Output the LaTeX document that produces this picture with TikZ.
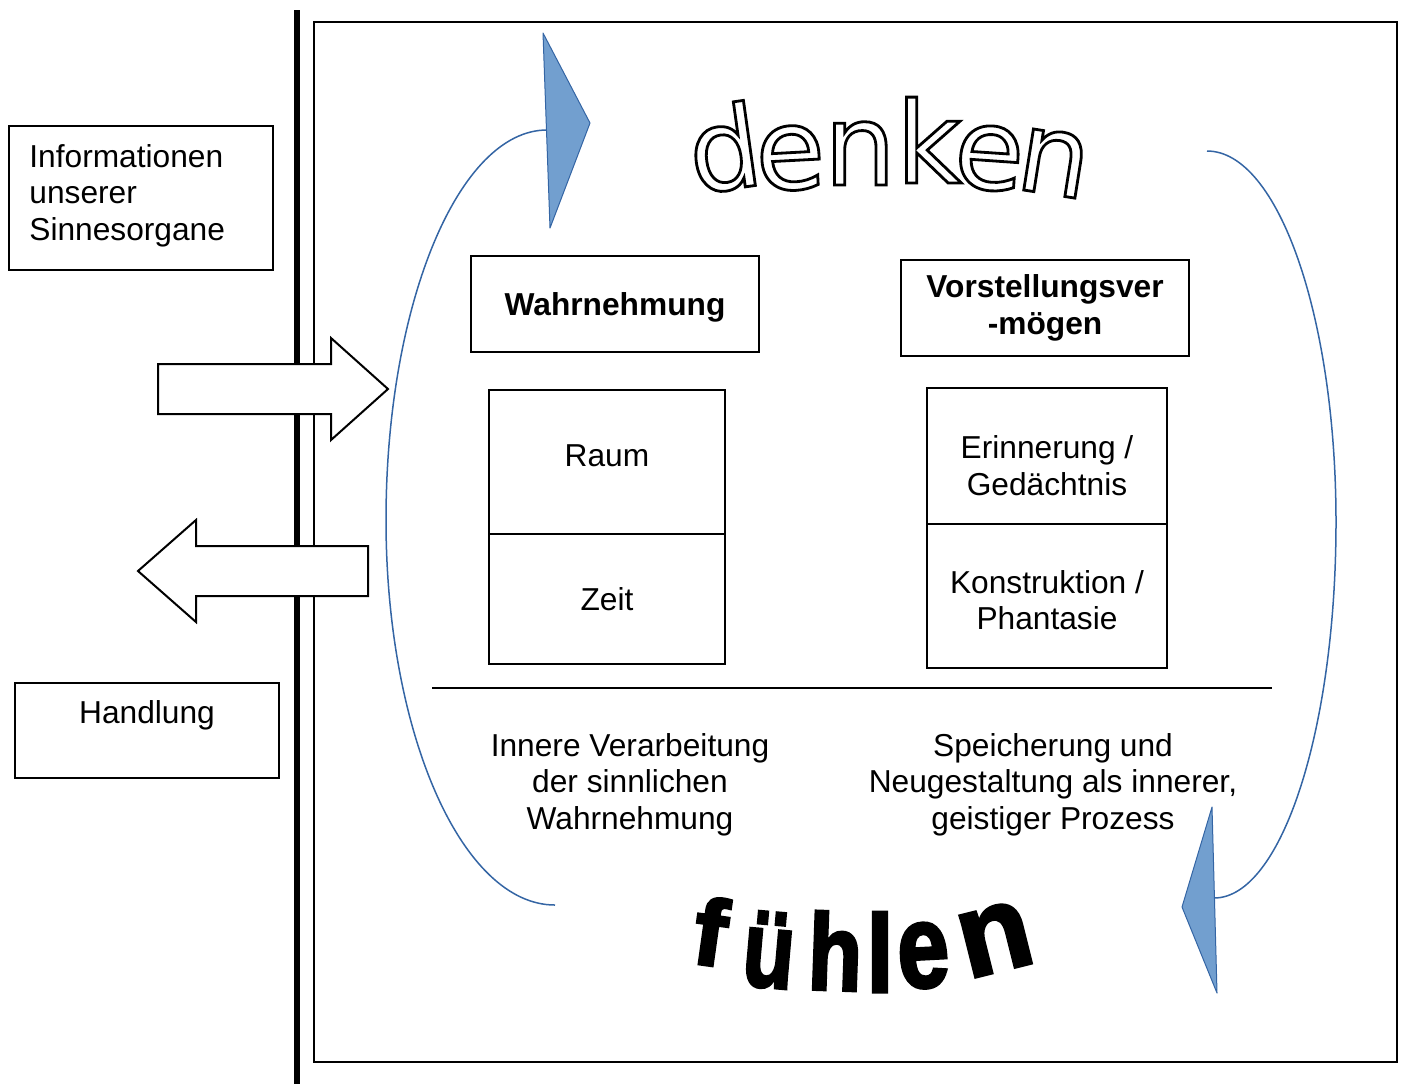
\documentclass[tikz,border=0pt]{standalone}
\usepackage{fontspec}
\setmainfont{Liberation Sans}
\newfontfamily\denkenfont{DejaVu Sans}
\usetikzlibrary{positioning, calc}
\definecolor{arcblue}{HTML}{3465A4}
\definecolor{tipblue}{HTML}{729FCF}
% hollow and heavy letters through the pdf text render mode
\newcommand\hollow[1]{\special{pdf:literal direct 1 Tr 1.4 w}#1\special{pdf:literal direct 0 Tr}}
\newcommand\heavy[1]{\special{pdf:literal direct 2 Tr 1.6 w}#1\special{pdf:literal direct 0 Tr}}
\tikzset{
  box/.style={draw, line width=1pt, inner sep=0pt, outer sep=0pt, fill=white, font=\fontsize{15.85}{18.25}\selectfont, align=center},
  txt/.style={inner sep=0pt, font=\fontsize{15.85}{18.25}\selectfont, align=center},
  mainframe/.style={draw, line width=1pt},
  senseline/.style={draw, line width=2.75pt},
  bigarrow/.style={draw, line width=1pt, fill=white, line join=miter},
  loop/.style={draw=arcblue, line width=0.75pt},
  tip/.style={fill=tipblue, draw=arcblue, line width=0.5pt, line join=round},
  divider/.style={draw, line width=1pt}
}

\begin{document}
\begin{tikzpicture}[x=0.5pt, y=-0.5pt]
  \tikzset{letterD/.style={font=\denkenfont\fontsize{56.5}{60}\selectfont, anchor=base, inner sep=0pt}};
  \tikzset{letterF/.style={font=\bfseries\fontsize{54}{56}\selectfont, anchor=base, inner sep=0pt}};
  \useasboundingbox (0,0) rectangle (1402,1084);

  % frame and the line of the senses
  \draw[mainframe] (314,22) rectangle (1397,1062);
  \draw[senseline] (297,10) -- (297,1084);

  % in and out
  \draw[bigarrow] (158,364) -- (331,364) -- (331,338) -- (388,389) -- (331,440) -- (331,414) -- (158,414) -- cycle;
  \draw[bigarrow] (368,546) -- (196,546) -- (196,520) -- (138,571) -- (196,622) -- (196,596) -- (368,596) -- cycle;

  \node[box, minimum width=132pt, minimum height=72pt] (info) at (141,198) {};
  \node[txt, align=left, anchor=west] (infotxt) at (29,195.5) {Informationen\\unserer\\Sinnesorgane};
  \node[box, minimum width=132pt, minimum height=47.5pt] (handlung) at (147,730.5) {};
  \node[txt] (handlungtxt) at (147,715) {Handlung};

  % the two columns
  \node[box, minimum width=144pt, minimum height=48pt, text depth=0pt, font=\bfseries\fontsize{15.85}{18.25}\selectfont] (wahr) at (615,304) {Wahrnehmung};
  \node[box, minimum width=144pt, minimum height=48pt, font=\bfseries\fontsize{15.85}{18.25}\selectfont] (vorst) at (1045,308) {Vorstellungsver\\-mögen};

  \node[box, minimum width=118pt, minimum height=72pt] (raum) at (607,462) {};
  \node[box, minimum width=118pt, minimum height=65pt, below=0pt of raum] (zeit) {Zeit};
  \node[txt] (raumtxt) at (607,455.5) {Raum};

  \node[box, minimum width=120pt, minimum height=68pt] (erinn) at (1047,456) {};
  \node[box, minimum width=120pt, minimum height=72pt, below=0pt of erinn] (konst) {};
  \node[txt] (erinntxt) at (1047,465.5) {Erinnerung /\\Gedächtnis};
  \node[txt] (konsttxt) at (1047,600) {Konstruktion /\\Phantasie};

  \coordinate (sepL) at (432,688);
  \coordinate (sepR) at (1272,688);
  \draw[divider] (sepL) -- (sepR);

  \node[txt] (innere) at (630,784.4) {Innere Verarbeitung\\der sinnlichen\\Wahrnehmung};
  \node[txt] (speicher) at (1053,784.4) {Speicherung und\\Neugestaltung als innerer,\\geistiger Prozess};

  % the loop
  \coordinate (ltop) at (547,130);
  \coordinate (lmid) at (386,520);
  \coordinate (lbot) at (555,905);
  \coordinate (rtop) at (1207,151);
  \coordinate (rmid) at (1336,522);
  \coordinate (rbot) at (1214,898);
  \draw[loop] (ltop) .. controls (458.5,130) and (386,304.6) .. (lmid)
              .. controls (386,732.6) and (461.7,905) .. (lbot);
  \draw[loop] (rtop) .. controls (1278.2,151) and (1336,317.1) .. (rmid)
              .. controls (1336,729.7) and (1281.4,898) .. (rbot);
  \draw[tip] (543,33) -- (590,123) -- (550,228) -- cycle;
  \draw[tip] (1212,807) -- (1182,907) -- (1217,993) -- cycle;

  % denken
  \node[letterD, rotate=8] (d1) at (730,189) {\hollow{d}};
  \node[letterD, rotate=3] (d2) at (792,189) {\hollow{e}};
  \node[letterD] (d3) at (860,185) {\hollow{n}};
  \node[letterD] (d4) at (929,183) {\hollow{k}};
  \node[letterD, rotate=-4] (d5) at (987,189) {\hollow{e}};
  \node[letterD, rotate=-9] (d6) at (1049,194) {\hollow{n}};

  % fuehlen
  \node[letterF, rotate=-8] (f1) at (706,965) {\scalebox{0.9}[0.87]{\heavy{f}}};
  \node[letterF, rotate=-5] (f2) at (766,987) {\scalebox{0.78}[1]{\heavy{ü}}};
  \node[letterF, rotate=-2] (f3) at (834,990) {\scalebox{0.82}[1]{\heavy{h}}};
  \node[letterF] (f4) at (880,992) {\scalebox{0.9}[1.02]{\heavy{l}}};
  \node[letterF, rotate=3] (f5) at (925,987) {\scalebox{0.86}[1.1]{\heavy{e}}};
  \node[letterF, rotate=14] (f6) at (1003,970) {\scalebox{1.1}[1.1]{\heavy{n}}};
\end{tikzpicture}
\end{document}
